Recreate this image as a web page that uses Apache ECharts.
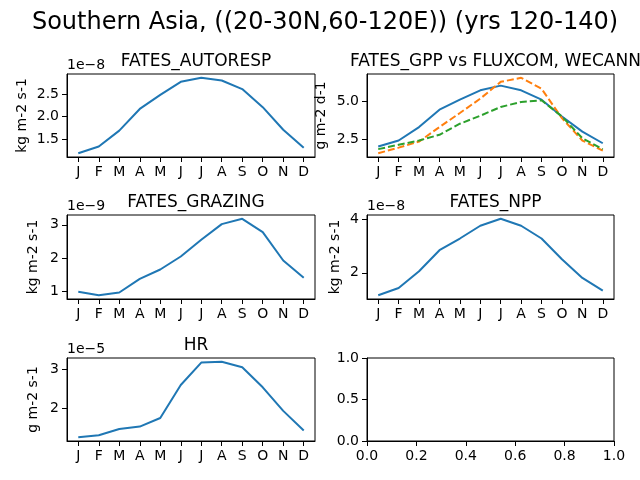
<!DOCTYPE html>
<html>
<head>
<meta charset="utf-8">
<script src="https://cdn.jsdelivr.net/npm/echarts@6/dist/echarts.min.js"></script>
<style>
  html, body { margin: 0; padding: 0; background: #fff; }
  #chart { width: 640px; height: 480px; }
</style>
</head>
<body>
<div id="chart"></div>
<script>
// month tick labels
var months = ['J', 'F', 'M', 'A', 'M', 'J', 'J', 'A', 'S', 'O', 'N', 'D'];

// values, in units of the offset shown above each panel
var autoresp = [1.19, 1.34, 1.69, 2.17, 2.48, 2.77, 2.86, 2.80, 2.61, 2.21, 1.71, 1.31];   // x1e-8
var gppFates = [2.01, 2.41, 3.30, 4.45, 5.11, 5.73, 6.04, 5.73, 5.11, 4.00, 3.00, 2.23];
var gppFluxcom = [1.57, 1.94, 2.34, 3.30, 4.23, 5.18, 6.29, 6.56, 5.83, 3.89, 2.41, 1.74];
var gppWecann = [1.84, 2.13, 2.41, 2.79, 3.52, 4.05, 4.63, 4.96, 5.07, 4.00, 2.56, 1.84];
var grazing = [0.99, 0.89, 0.97, 1.38, 1.66, 2.05, 2.55, 3.02, 3.18, 2.78, 1.93, 1.41];    // x1e-9
var npp = [1.16, 1.43, 2.06, 2.85, 3.29, 3.77, 4.03, 3.77, 3.29, 2.51, 1.81, 1.33];        // x1e-8
var hr = [1.27, 1.32, 1.48, 1.54, 1.76, 2.60, 3.17, 3.19, 3.05, 2.54, 1.94, 1.44];         // x1e-5

// y tick labels per panel
var autorespTicks = [1.5, 2.0, 2.5];
var gppTicks = [2.5, 5.0];
var grazingTicks = [1, 2, 3];
var nppTicks = [2, 4];
var hrTicks = [2, 3];
var emptyYTicks = [0, 0.5, 1.0];

var FONT = 'DejaVu Sans';
var BLUE = '#1f77b4', ORANGE = '#ff7f0e', GREEN = '#2ca02c';

var grids = [
  {left: 67, top: 74, width: 248, height: 83},
  {left: 367, top: 74, width: 247, height: 83},
  {left: 67, top: 215, width: 248, height: 84},
  {left: 367, top: 215, width: 247, height: 84},
  {left: 67, top: 358, width: 248, height: 83},
  {left: 367, top: 358, width: 247, height: 83}
];
grids.forEach(function (g) {
  g.show = true;
  g.borderColor = '#000';
  g.borderWidth = 1;
  g.backgroundColor = 'transparent';
});

function pad(arrs) {
  var all = [].concat.apply([], arrs);
  var lo = Math.min.apply(null, all), hi = Math.max.apply(null, all);
  var m = (hi - lo) * 0.05;
  return [lo - m, hi + m];
}
function pts(arr) {
  return arr.map(function (v, i) { return [i, v]; });
}

var axisLine = {show: true, onZero: false, lineStyle: {color: '#000', width: 1}};
var tick = {show: true, length: 5, lineStyle: {color: '#000', width: 1}};

function monthAxis(idx) {
  return {
    gridIndex: idx, type: 'value', min: -0.55, max: 11.55,
    axisLine: axisLine,
    axisTick: Object.assign({customValues: months.map(function (m, i) { return i; })}, tick),
    axisLabel: {
      customValues: months.map(function (m, i) { return i; }),
      formatter: function (v) { return months[v]; },
      color: '#000', fontFamily: FONT, fontSize: 14, margin: 8
    },
    splitLine: {show: false}
  };
}
function valAxis(idx, range, ticks, digits, name, gap) {
  return {
    gridIndex: idx, type: 'value', min: range[0], max: range[1],
    name: name, nameLocation: 'middle', nameGap: gap,
    nameTextStyle: {color: '#000', fontFamily: FONT, fontSize: 14},
    axisLine: axisLine,
    axisTick: Object.assign({customValues: ticks}, tick),
    axisLabel: {
      customValues: ticks,
      formatter: function (v) { return v.toFixed(digits); },
      color: '#000', fontFamily: FONT, fontSize: 14, margin: 8
    },
    splitLine: {show: false}
  };
}
function line(idx, data, color, dashed) {
  return {
    type: 'line', xAxisIndex: idx, yAxisIndex: idx, data: pts(data),
    symbol: 'none', silent: true, animation: false,
    lineStyle: {color: color, width: 2, type: dashed ? [7, 3] : 'solid'}
  };
}
function subTitle(idx, text) {
  var g = grids[idx];
  return {
    text: text, left: g.left + g.width / 2, top: g.top - 26, textAlign: 'center',
    textStyle: {fontFamily: FONT, fontSize: 17, fontWeight: 'normal', color: '#000'}
  };
}
function offsetText(idx, text) {
  var g = grids[idx];
  return {
    type: 'text', left: g.left, top: g.top - 16,
    style: {text: text, fontFamily: FONT, fontSize: 14, fill: '#000'}
  };
}

var option = {
  animation: false,
  backgroundColor: '#fff',
  title: [
    {
      text: 'Southern Asia, ((20-30N,60-120E)) (yrs 120-140)', left: 320, top: 6, textAlign: 'center',
      textStyle: {fontFamily: FONT, fontSize: 24, fontWeight: 'normal', color: '#000'}
    },
    subTitle(0, 'FATES_AUTORESP'),
    subTitle(1, 'FATES_GPP vs FLUXCOM, WECANN'),
    subTitle(2, 'FATES_GRAZING'),
    subTitle(3, 'FATES_NPP'),
    subTitle(4, 'HR')
  ],
  grid: grids,
  xAxis: [
    monthAxis(0), monthAxis(1), monthAxis(2), monthAxis(3), monthAxis(4),
    {
      gridIndex: 5, type: 'value', min: 0, max: 1, interval: 0.2,
      axisLine: axisLine, axisTick: tick,
      axisLabel: {formatter: function (v) { return v.toFixed(1); }, color: '#000', fontFamily: FONT, fontSize: 14, margin: 8},
      splitLine: {show: false}
    }
  ],
  yAxis: [
    valAxis(0, pad([autoresp]), autorespTicks, 1, 'kg m-2 s-1', 38),
    valAxis(1, pad([gppFates, gppFluxcom, gppWecann]), gppTicks, 1, 'g m-2 d-1', 39),
    valAxis(2, pad([grazing]), grazingTicks, 0, 'kg m-2 s-1', 27),
    valAxis(3, pad([npp]), nppTicks, 0, 'kg m-2 s-1', 25),
    valAxis(4, pad([hr]), hrTicks, 0, 'g m-2 s-1', 27),
    valAxis(5, [0, 1], emptyYTicks, 1, '', 0)
  ],
  graphic: [
    offsetText(0, '1e\u22128'),
    offsetText(2, '1e\u22129'),
    offsetText(3, '1e\u22128'),
    offsetText(4, '1e\u22125')
  ],
  series: [
    line(0, autoresp, BLUE),
    line(1, gppFates, BLUE),
    line(1, gppFluxcom, ORANGE, true),
    line(1, gppWecann, GREEN, true),
    line(2, grazing, BLUE),
    line(3, npp, BLUE),
    line(4, hr, BLUE)
  ]
};

var chart = echarts.init(document.getElementById('chart'));
chart.setOption(option);
</script>
</body>
</html>
